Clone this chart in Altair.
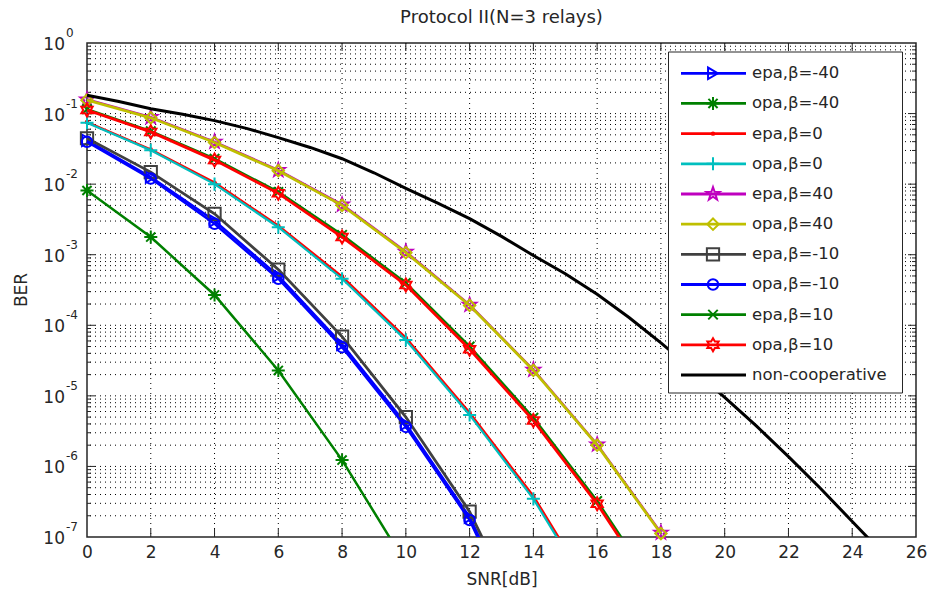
import math
import altair as alt
import pandas as pd

# ---------------- data ----------------
snr_db = [0, 2, 4, 6, 8, 10, 12, 14, 16, 18]
snr_noncoop = list(range(0, 27))

epa_b_m40 = [4.17e-2, 1.26e-2, 3.02e-3, 5.01e-4, 5.37e-5, 3.98e-6, 1.91e-7, 2.51e-9]
opa_b_m40 = [8.13e-3, 1.78e-3, 2.69e-4, 2.29e-5, 1.23e-6, 4.17e-8]
epa_b_0 = [7.59e-2, 3.09e-2, 1.05e-2, 2.57e-3, 4.90e-4, 6.61e-5, 5.75e-6, 3.80e-7, 1.26e-8]
opa_b_0 = [7.41e-2, 3.02e-2, 1.00e-2, 2.45e-3, 4.57e-4, 6.17e-5, 5.37e-6, 3.47e-7, 1.15e-8]
epa_b_40 = [1.58e-1, 8.91e-2, 3.98e-2, 1.58e-2, 5.13e-3, 1.10e-3, 1.95e-4, 2.34e-5, 2.04e-6, 1.15e-7]
opa_b_40 = [1.55e-1, 8.71e-2, 3.89e-2, 1.55e-2, 5.01e-3, 1.07e-3, 1.91e-4, 2.29e-5, 2.00e-6, 1.12e-7]
epa_b_m10 = [4.47e-2, 1.48e-2, 3.80e-3, 6.17e-4, 6.92e-5, 5.01e-6, 2.29e-7, 3.16e-9]
opa_b_m10 = [3.98e-2, 1.20e-2, 2.75e-3, 4.57e-4, 4.90e-5, 3.63e-6, 1.74e-7, 2.00e-9]
epa_b_10 = [1.15e-1, 5.62e-2, 2.29e-2, 7.76e-3, 1.91e-3, 3.98e-4, 5.01e-5, 4.90e-6, 3.24e-7, 1.41e-8]
opa_b_10 = [1.12e-1, 5.50e-2, 2.19e-2, 7.41e-3, 1.78e-3, 3.72e-4, 4.57e-5, 4.47e-6, 2.95e-7, 1.26e-8]
non_coop = [1.82e-1, 1.48e-1, 1.17e-1, 9.77e-2, 7.94e-2, 6.17e-2, 4.57e-2, 3.31e-2,
            2.29e-2, 1.45e-2, 8.71e-3, 5.37e-3, 3.24e-3, 1.82e-3, 9.77e-4, 5.37e-4,
            2.75e-4, 1.29e-4, 5.62e-5, 2.34e-5, 9.55e-6, 3.72e-6, 1.38e-6, 4.90e-7,
            1.66e-7, 5.62e-8, 1.78e-8]

labels = ["epa,β=-40", "opa,β=-40", "epa,β=0", "opa,β=0", "epa,β=40",
          "opa,β=40", "epa,β=-10", "opa,β=-10", "epa,β=10", "opa,β=10",
          "non-cooperative"]

x_ticks = list(range(0, 27, 2))
y_exponents = [0, -1, -2, -3, -4, -5, -6, -7]

# ---------------- styling ----------------
FONT = "DejaVu Sans"
INK = "#262626"
W, H = 829, 494


def star_path(n, r_in):
    pts = []
    for k in range(2 * n):
        r = 1.0 if k % 2 == 0 else r_in
        a = -math.pi / 2 + k * math.pi / n
        pts.append(f"{r * math.cos(a):.3f},{r * math.sin(a):.3f}")
    return "M" + "L".join(pts) + "Z"


ASTER = "M-1,0L1,0M0,-1L0,1M-0.7,-0.7L0.7,0.7M-0.7,0.7L0.7,-0.7"
PLUS = "M-1,0L1,0M0,-1L0,1"
XMARK = "M-1,-1L1,1M-1,1L1,-1"
PENTA = star_path(5, 0.4)
HEXA = star_path(6, 0.58)

colors = ["#0000FF", "#008000", "#FF0000", "#00BFBF", "#BF00BF",
          "#BFBF00", "#404040", "#0000FF", "#008000", "#FF0000", "#000000"]
shapes = ["triangle-right", ASTER, "circle", PLUS, PENTA,
          "diamond", "square", "circle", XMARK, HEXA, "circle"]
sizes = [130, 170, 6, 170, 190, 130, 150, 110, 90, 170, 0]
widths = [2.5, 2.5, 2.5, 2.2, 2.5, 2.8, 2.8, 2.5, 2.5, 2.8, 3.0]
series_values = [epa_b_m40, opa_b_m40, epa_b_0, opa_b_0, epa_b_40, opa_b_40,
                 epa_b_m10, opa_b_m10, epa_b_10, opa_b_10, non_coop]

xscale = alt.Scale(domain=[0, 26], nice=False, zero=False)
yscale = alt.Scale(type="log", domain=[1e-7, 1], nice=False)
xaxis = alt.Axis(values=x_ticks, title="SNR[dB]", ticks=False, domain=False,
                 grid=False, labelFont=FONT, labelFontSize=17, labelColor=INK,
                 labelPadding=7, labelFlush=False, labelOverlap=False,
                 titleFont=FONT, titleFontSize=17, titleFontWeight="normal",
                 titleColor=INK, titlePadding=11)


def X(field):
    return alt.X(field, type="quantitative", scale=xscale, axis=xaxis)


def Y(field):
    return alt.Y(field, type="quantitative", scale=yscale, axis=None)


layers = []

# ---------------- grid ----------------
xgrid_df = pd.DataFrame({"v": x_ticks[1:-1]})
layers.append(alt.Chart(xgrid_df).mark_rule(color="black", strokeWidth=1, strokeDash=[1, 4])
              .encode(x=X("v")))

ygrid_major = [10.0 ** e for e in y_exponents[1:-1]]
ygrid_minor = [m * 10.0 ** e for e in y_exponents[1:] for m in range(2, 10)]
ygrid_df = pd.DataFrame({"v": ygrid_major + ygrid_minor})
layers.append(alt.Chart(ygrid_df).mark_rule(color="black", strokeWidth=1, strokeDash=[1, 4])
              .encode(y=Y("v")))

# ---------------- ticks (inward, all four sides) ----------------
xt = alt.Chart(xgrid_df)
layers.append(xt.mark_rule(color=INK, strokeWidth=1).encode(x=X("v"), y=alt.value(H), y2=alt.value(H - 8)))
layers.append(xt.mark_rule(color=INK, strokeWidth=1).encode(x=X("v"), y=alt.value(0), y2=alt.value(8)))
ymaj = alt.Chart(pd.DataFrame({"v": ygrid_major}))
ymin = alt.Chart(pd.DataFrame({"v": ygrid_minor}))
for src, ln in ((ymaj, 8), (ymin, 4)):
    layers.append(src.mark_rule(color=INK, strokeWidth=1).encode(y=Y("v"), x=alt.value(0), x2=alt.value(ln)))
    layers.append(src.mark_rule(color=INK, strokeWidth=1).encode(y=Y("v"), x=alt.value(W), x2=alt.value(W - ln)))

# ---------------- series ----------------
for i, vals in enumerate(series_values):
    xs = snr_noncoop if i == 10 else snr_db[:len(vals)]
    df = pd.DataFrame({"snr": xs, "ber": vals})
    layers.append(alt.Chart(df).mark_line(color=colors[i], strokeWidth=widths[i], clip=True)
                  .encode(x=X("snr"), y=Y("ber")))
    if i < 10:
        layers.append(alt.Chart(df).transform_filter("datum.ber >= 1e-7")
                      .mark_point(shape=shapes[i], size=sizes[i], color=colors[i],
                                  filled=False, strokeWidth=2, opacity=1)
                      .encode(x=X("snr"), y=Y("ber")))

# ---------------- y tick labels 10^k ----------------
ylab = alt.Chart(pd.DataFrame({"e": y_exponents})).transform_calculate(
    v="pow(10, datum.e)", t="'' + datum.e")
layers.append(ylab.mark_text(text="10", align="right", baseline="alphabetic", dy=7,
                             font=FONT, fontSize=17, color=INK)
              .encode(x=alt.value(-22), y=Y("v")))
layers.append(ylab.mark_text(align="left", baseline="alphabetic", dy=-6,
                             font=FONT, fontSize=12, color=INK)
              .encode(x=alt.value(-21), y=Y("v"), text="t:N"))

# ---------------- texts ----------------
one = alt.Chart(pd.DataFrame({"a": [0]}))
layers.append(one.mark_text(text="BER", angle=270, align="center", baseline="middle",
                            font=FONT, fontSize=17, color=INK)
              .encode(x=alt.value(-65), y=alt.value(H / 2)))
layers.append(one.mark_text(text="Protocol II(N=3 relays)", align="center", baseline="alphabetic",
                            font=FONT, fontSize=18, color=INK)
              .encode(x=alt.value(W / 2), y=alt.value(-20)))

# ---------------- legend ----------------
layers.append(one.mark_rect(fill="white", stroke=INK, strokeWidth=1)
              .encode(x=alt.value(581.5), x2=alt.value(815.5), y=alt.value(9), y2=alt.value(350)))
leg = alt.Chart(pd.DataFrame({"series": labels, "idx": list(range(len(labels)))})).transform_calculate(
    ly="30.3 + datum.idx * 30.17")
cscale = alt.Scale(domain=labels, range=colors)
layers.append(leg.mark_rule(strokeWidth=2.8)
              .encode(x=alt.value(594), x2=alt.value(659), y=alt.Y("ly:Q", scale=None),
                      color=alt.Color("series:N", scale=cscale, legend=None)))
for i in range(10):
    layers.append(leg.transform_filter(f"datum.idx == {i}")
                  .mark_point(shape=shapes[i], size=sizes[i], color=colors[i],
                              filled=False, strokeWidth=2, opacity=1)
                  .encode(x=alt.value(626), y=alt.Y("ly:Q", scale=None)))
layers.append(leg.mark_text(align="left", baseline="middle", font=FONT, fontSize=16.5, color=INK)
              .encode(x=alt.value(665), y=alt.Y("ly:Q", scale=None), text="series:N"))

chart = alt.layer(*layers).properties(
    width=W, height=H,
    padding={"left": 87, "top": 43, "right": 12, "bottom": 59},
    autosize=alt.AutoSizeParams(type="none"),
    background="white",
).configure_view(stroke=INK, strokeWidth=1.5)

chart.save("out.html", embed_options={"renderer": "svg", "actions": False})
